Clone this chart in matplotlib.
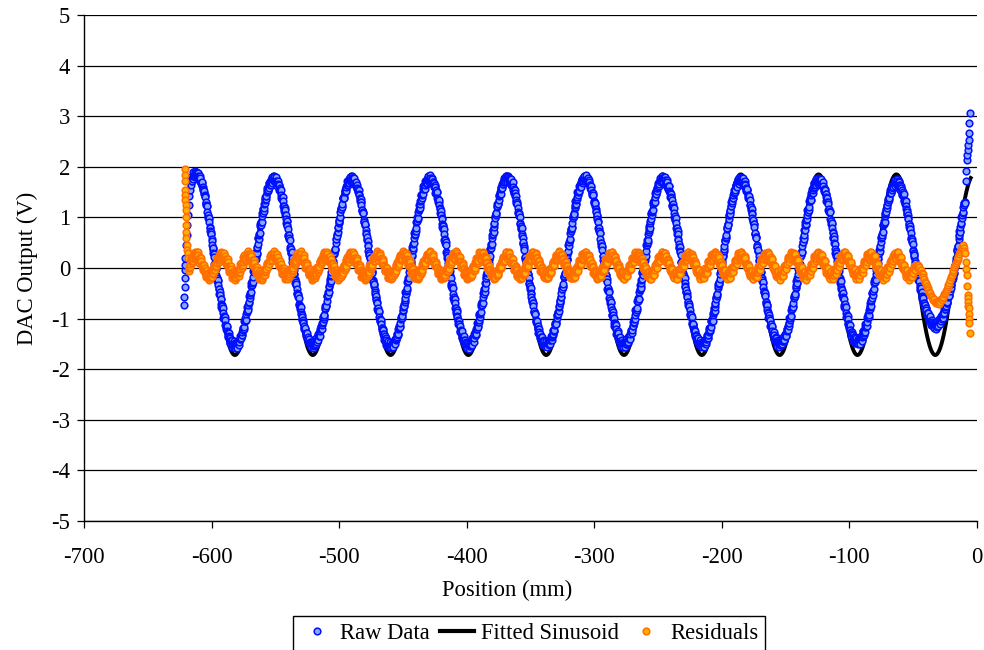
import numpy as np
import matplotlib
matplotlib.use("Agg")
import matplotlib.pyplot as plt
from matplotlib.lines import Line2D

plt.rcParams['font.family'] = ['Liberation Serif', 'DejaVu Serif']

# ---------------- data ----------------
# Fitted sinusoid parameters
fit_amplitude = 1.785
fit_offset = 0.065
fit_period = 61.0          # mm
fit_first_peak = -612.2    # mm
fit_x_start = -620.8
fit_x_end = -4.2

# Raw data: circle-centre heights of each peak / trough (left to right)
raw_peaks = [1.86, 1.76, 1.76, 1.76, 1.78, 1.77, 1.76, 1.74, 1.73, 1.69, 1.85]
raw_troughs = [-1.53, -1.51, -1.54, -1.53, -1.51, -1.51, -1.51, -1.49, -1.46, -1.13]
raw_ripple = [0.04, 0.035]     # scatter of the raw points (V)
raw_step = 0.25
raw_main_range = [-616.0, -9.3]
raw_start_x = [-621.3, -621.3, -621.2, -621.1, -621.0, -620.9, -620.8, -620.2,
               -619.6, -619.0, -618.5, -618.0, -617.5, -617.0, -616.5]
raw_start_y = [-0.73, -0.57, -0.38, -0.20, -0.04, 0.06, 0.19, 0.45,
               0.65, 0.85, 1.05, 1.25, 1.42, 1.55, 1.65]
raw_end_x = [-8.9, -8.4, -8.1, -7.6, -7.3, -6.8, -6.5, -6.3, -6.0, -5.5]
raw_end_y = [1.71, 1.92, 2.13, 2.23, 2.33, 2.43, 2.53, 2.66, 2.86, 3.06]

# Residuals: mean, third-harmonic amplitude, fine ripple
res_offset = 0.05
res_h3 = 0.20
res_ripple = [0.05, 0.045]
res_main_range = [-618.0, -47.5]
res_start_x = [-620.9, -620.8, -620.8, -620.7, -620.6, -620.5, -620.4, -620.3,
               -620.2, -620.1, -620.0, -619.8, -619.6, -619.2, -618.8, -618.4]
res_start_y = [1.96, 1.84, 1.71, 1.54, 1.44, 1.34, 1.25, 1.15,
               1.01, 0.85, 0.72, 0.59, 0.45, 0.36, 0.29, 0.19]
res_end_x = [-47.3, -46.6, -46.0, -45.3, -44.7, -44.0, -43.3, -42.6, -42.0, -41.4,
             -40.8, -40.1, -39.5, -38.8, -38.2, -37.5, -36.8, -36.1, -35.5, -34.8,
             -34.2, -33.5, -32.9, -32.2, -31.6, -30.9, -30.3, -29.6, -29.0, -28.3,
             -27.7, -27.0, -26.4, -25.7, -25.1, -24.4, -23.8, -23.1, -22.5, -21.8,
             -21.2, -20.5, -19.8, -19.1, -18.5, -17.8, -17.2, -16.5, -15.9, -15.2,
             -14.6, -13.9, -13.3, -12.6, -12.0, -11.5, -11.1, -10.6, -10.2, -9.8,
             -9.4, -8.8, -8.3, -8.0, -7.6, -7.4, -7.2, -7.0, -6.8, -6.6, -6.4,
             -6.2, -6.0, -5.8]
res_end_y = [0.03, 0.06, 0.00, 0.02, -0.05, -0.04, -0.10, -0.12, -0.18, -0.21,
             -0.27, -0.30, -0.35, -0.40, -0.43, -0.48, -0.50, -0.55, -0.57, -0.61,
             -0.63, -0.62, -0.67, -0.70, -0.69, -0.66, -0.70, -0.72, -0.68, -0.61,
             -0.63, -0.60, -0.57, -0.52, -0.50, -0.45, -0.42, -0.38, -0.34, -0.30,
             -0.24, -0.18, -0.14, -0.08, -0.04, 0.02, 0.06, 0.10, 0.14, 0.18,
             0.22, 0.27, 0.32, 0.36, 0.42, 0.40, 0.43, 0.45, 0.39, 0.34,
             0.30, 0.12, -0.02, -0.14, -0.35, -0.53, -0.60, -0.68, -0.75, -0.80, -0.90,
             -1.00, -1.09, -1.29]

x_ticks = list(range(-700, 1, 100))
y_ticks = list(range(-5, 6))
labels = ["Raw Data", "Fitted Sinusoid", "Residuals"]

# ---------------- build series ----------------
def phase(x):
    return 2 * np.pi * (np.asarray(x) - fit_first_peak) / fit_period

xf = np.linspace(fit_x_start, fit_x_end, 1500)
yf = fit_offset + fit_amplitude * np.cos(phase(xf))

xr = np.arange(raw_main_range[0], raw_main_range[1], raw_step)
c = np.cos(phase(xr))
kp = np.clip(np.round((xr - fit_first_peak) / fit_period).astype(int), 0, len(raw_peaks) - 1)
kt = np.clip(np.round((xr - fit_first_peak - fit_period / 2) / fit_period).astype(int), 0, len(raw_troughs) - 1)
pk = np.array(raw_peaks)[kp]
tr = -np.array(raw_troughs)[kt]
yr = (np.where(c >= 0, c * pk, c * tr)
      + raw_ripple[0] * np.cos(2 * np.pi * xr / 1.75)
      + raw_ripple[1] * np.sin(2 * np.pi * xr / 0.77))
xr = np.concatenate([raw_start_x, xr, raw_end_x])
yr = np.concatenate([raw_start_y, yr, raw_end_y])

xs = np.arange(res_main_range[0], res_main_range[1], raw_step)
ys = (res_offset + res_h3 * np.cos(3 * phase(xs))
      + res_ripple[0] * np.cos(2 * np.pi * xs / 2.6)
      + res_ripple[1] * np.sin(2 * np.pi * xs / 0.83))
xs = np.concatenate([res_start_x, xs, res_end_x])
ys = np.concatenate([res_start_y, ys, res_end_y])

# ---------------- plot ----------------
fig = plt.figure(figsize=(9.84, 6.5), dpi=100)
ax = fig.add_axes([84 / 984, 1 - 521 / 650, 893 / 984, 506 / 650])

blue_kw = dict(linestyle='none', marker='o', markersize=4.8, markeredgewidth=1.1,
               markeredgecolor='#0010ff', markerfacecolor='#8aa6ff')
orange_kw = dict(linestyle='none', marker='o', markersize=4.8, markeredgewidth=1.1,
                 markeredgecolor='#ff6e00', markerfacecolor='#ffb000')

ax.plot(xf, yf, color='black', lw=2.8, zorder=2, solid_capstyle='butt')
ax.plot(xr, yr, zorder=3, **blue_kw)
ax.plot(xs, ys, zorder=4, **orange_kw)

ax.set_xlim(-700, 0)
ax.set_ylim(-5, 5)
ax.set_xticks(x_ticks)
ax.set_yticks(y_ticks)
ax.set_xticklabels([str(v) for v in x_ticks])
ax.set_yticklabels([str(v) for v in y_ticks])
ax.grid(axis='y', color='black', lw=0.9, zorder=1)
ax.set_axisbelow(True)
for s in ['top', 'right']:
    ax.spines[s].set_visible(False)
for s in ['left', 'bottom']:
    ax.spines[s].set_linewidth(1.0)
    ax.spines[s].set_color('black')
ax.tick_params(axis='both', direction='out', length=5, width=0.9, labelsize=16.3, colors='black')
ax.tick_params(axis='x', pad=14)
ax.tick_params(axis='y', pad=5)

fig.text(507 / 984, 1 - 590 / 650, "Position (mm)", ha='center', va='center', fontsize=16.3)
fig.text(27 / 984, 1 - 268 / 650, "DAC Output (V)", ha='center', va='center',
         rotation=90, fontsize=16.3)

handles = [Line2D([], [], **blue_kw),
           Line2D([], [], color='black', lw=3),
           Line2D([], [], **orange_kw)]
leg = fig.legend(handles, labels, loc='upper center',
                 bbox_to_anchor=(529 / 984, 1 - 616 / 650), ncol=3, frameon=True,
                 fancybox=False, edgecolor='black', framealpha=1, fontsize=16.3,
                 handlelength=1.5, handletextpad=0.3, columnspacing=0.45,
                 borderpad=0.3, borderaxespad=0)
leg.get_frame().set_linewidth(1.0)

fig.savefig("out.png", dpi=100)
